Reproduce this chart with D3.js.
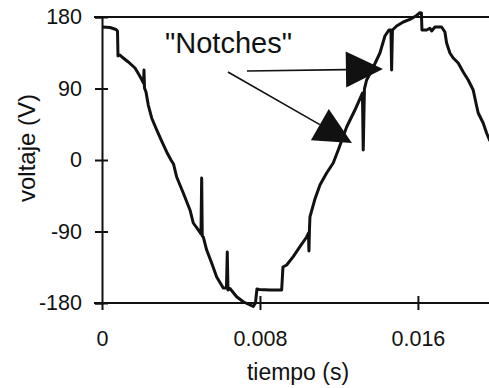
<!DOCTYPE html>
<html>
<head>
<meta charset="utf-8">
<script src="https://cdn.jsdelivr.net/npm/d3@7"></script>
<style>
  html, body { margin: 0; padding: 0; background: #fff; }
  svg { display: block; }
  text { font-family: "Liberation Sans", Arial, Helvetica, sans-serif; fill: #111; }
</style>
</head>
<body>
<script>
// Measured line voltage over one cycle, with commutation notches
const time = [
  0.000025, 0.000405, 0.000709, 0.000785, 0.000810, 0.000911, 0.001013, 0.001316, 0.001671, 0.001823,
  0.002025, 0.002101, 0.002127, 0.002152, 0.002228, 0.002344, 0.002516, 0.002770, 0.003023, 0.003276,
  0.003494, 0.003620, 0.003782, 0.004116, 0.004456, 0.004623, 0.004876, 0.005013, 0.005048, 0.005078,
  0.005129, 0.005301, 0.005554, 0.005808, 0.006142, 0.006304, 0.006344, 0.006380, 0.006481, 0.006820,
  0.007154, 0.007494, 0.007661, 0.007772, 0.007848, 0.007949, 0.008506, 0.009099, 0.009165, 0.009352,
  0.009686, 0.010025, 0.010365, 0.010456, 0.010481, 0.010506, 0.010532, 0.010785, 0.011038, 0.011377,
  0.011711, 0.011965, 0.012390, 0.012810, 0.013190, 0.013230, 0.013291, 0.013402, 0.013671, 0.014076,
  0.014329, 0.014532, 0.014633, 0.014668, 0.014709, 0.014922, 0.015256, 0.015595, 0.015934, 0.016101,
  0.016177, 0.016203, 0.016441, 0.016608, 0.016694, 0.016861, 0.017200, 0.017367, 0.017453, 0.017620,
  0.017787, 0.018041, 0.018294, 0.018547, 0.018800, 0.018972, 0.019053, 0.019306, 0.019478, 0.019646
];
const voltage = [
  167.4, 166.8, 164.3, 162.4, 130.9, 132.2, 129.7, 123.7, 115.8, 109.5,
  100.7, 96.9, 113.3, 90.6, 85.6, 69.2, 52.9, 37.8, 23.9, 10.1,
  0.0, -5.0, -21.4, -41.5, -62.9, -79.3, -88.1, -93.1, -22.7, -95.7,
  -96.9, -113.3, -129.7, -147.3, -161.1, -161.1, -115.8, -163.6, -161.7, -172.1,
  -178.4, -182.5, -184.4, -180.0, -162.4, -163.0, -163.6, -163.6, -134.7, -132.2,
  -121.7, -109.1, -96.9, -91.9, -114.5, -88.1, -71.7, -49.1, -31.5, -16.4,
  -3.8, 12.6, 41.5, 62.9, 84.3, 12.6, 89.4, 100.7, 113.3, 134.7,
  156.1, 163.6, 163.6, 113.3, 163.6, 168.7, 173.7, 176.9, 181.9, 185.4,
  185.0, 163.6, 163.6, 165.8, 162.4, 167.4, 167.4, 161.1, 147.3, 134.7,
  128.4, 122.1, 110.8, 100.7, 88.1, 68.0, 59.2, 46.6, 34.0, 23.9
];

const xTicks = [0, 0.008, 0.016];
const xTickLabels = ["0", "0.008", "0.016"];
const yTicks = [-180, -90, 0, 90, 180];
const yTickLabels = ["-180", "-90", "0", "90", "180"];

// Annotation: label anchor and two arrows (start -> tip), in data units
const noteText = "\"Notches\"";
const noteAnchor = [0.00319, 134.1];
const arrowStarts = [[0.007342, 112.0], [0.006380, 110.8]];
const arrowTips = [[0.014228, 114.5], [0.012658, 21.4]];

const W = 489, H = 388;
const svg = d3.select("body").append("svg").attr("width", W).attr("height", H);

const x = d3.scaleLinear().domain([0, 0.0196]).range([102, 489]);
const y = d3.scaleLinear().domain([-180, 180]).range([303, 17]);

const ink = "#111";

// Frame: top line at 180, bottom axis at -180
svg.append("line")
  .attr("x1", x(0) - 8).attr("x2", W)
  .attr("y1", y(180)).attr("y2", y(180))
  .attr("stroke", ink).attr("stroke-width", 2);

// Left axis with ticks crossing the line
const gy = svg.append("g").attr("transform", `translate(${x(0)},0)`)
  .call(d3.axisLeft(y).tickValues(yTicks).tickFormat((d, i) => yTickLabels[i]).tickSize(7).tickPadding(13));
gy.select(".domain").attr("stroke", ink).attr("stroke-width", 2);
gy.selectAll(".tick line").attr("x1", -7).attr("x2", 6).attr("stroke", ink).attr("stroke-width", 2);
gy.selectAll(".tick text").attr("font-size", 21.5).attr("fill", ink)
  .style("font-family", "'Liberation Sans', Arial, sans-serif");

// Bottom axis with ticks crossing the line
const gx = svg.append("g").attr("transform", `translate(0,${y(-180)})`)
  .call(d3.axisBottom(x).tickValues(xTicks).tickFormat((d, i) => xTickLabels[i]).tickSize(7).tickPadding(21));
gx.select(".domain").remove();
gx.append("line").attr("x1", x(0) - 8).attr("x2", W).attr("y1", 0).attr("y2", 0)
  .attr("stroke", ink).attr("stroke-width", 2);
gx.selectAll(".tick line").attr("y1", (d) => d === 0 ? 0 : -7).attr("y2", 7)
  .attr("stroke", ink).attr("stroke-width", 2);
gx.selectAll(".tick text").attr("font-size", 21.5).attr("fill", ink)
  .style("font-family", "'Liberation Sans', Arial, sans-serif");

// Axis titles
svg.append("text")
  .attr("x", 298).attr("y", 380)
  .attr("text-anchor", "middle").attr("font-size", 23)
  .text("tiempo (s)");

svg.append("text")
  .attr("transform", "translate(35,148) rotate(-90)")
  .attr("text-anchor", "middle").attr("font-size", 24)
  .text("voltaje (V)");

// Waveform
const pts = time.map((t, i) => [t, voltage[i]]);
const line = d3.line().x((d) => x(d[0])).y((d) => y(d[1]));
svg.append("path")
  .datum(pts)
  .attr("d", line)
  .attr("fill", "none")
  .attr("stroke", ink)
  .attr("stroke-width", 3)
  .attr("stroke-linejoin", "round");

// Annotation label
svg.append("text")
  .attr("x", x(noteAnchor[0])).attr("y", y(noteAnchor[1]))
  .attr("font-size", 29)
  .text(noteText);

// Arrows with large filled heads
const headLen = 37, headHalf = 18;
arrowStarts.forEach((s, i) => {
  const x0 = x(s[0]), y0 = y(s[1]);
  const x1 = x(arrowTips[i][0]), y1 = y(arrowTips[i][1]);
  const dx = x1 - x0, dy = y1 - y0, len = Math.hypot(dx, dy);
  const ux = dx / len, uy = dy / len, nx = -uy, ny = ux;
  const bx = x1 - ux * headLen, by = y1 - uy * headLen;
  svg.append("line")
    .attr("x1", x0).attr("y1", y0).attr("x2", bx).attr("y2", by)
    .attr("stroke", ink).attr("stroke-width", 1.6);
  svg.append("polygon")
    .attr("points", [[x1, y1], [bx + nx * headHalf, by + ny * headHalf], [bx - nx * headHalf, by - ny * headHalf]]
      .map((p) => p.join(",")).join(" "))
    .attr("fill", ink);
});
</script>
</body>
</html>
